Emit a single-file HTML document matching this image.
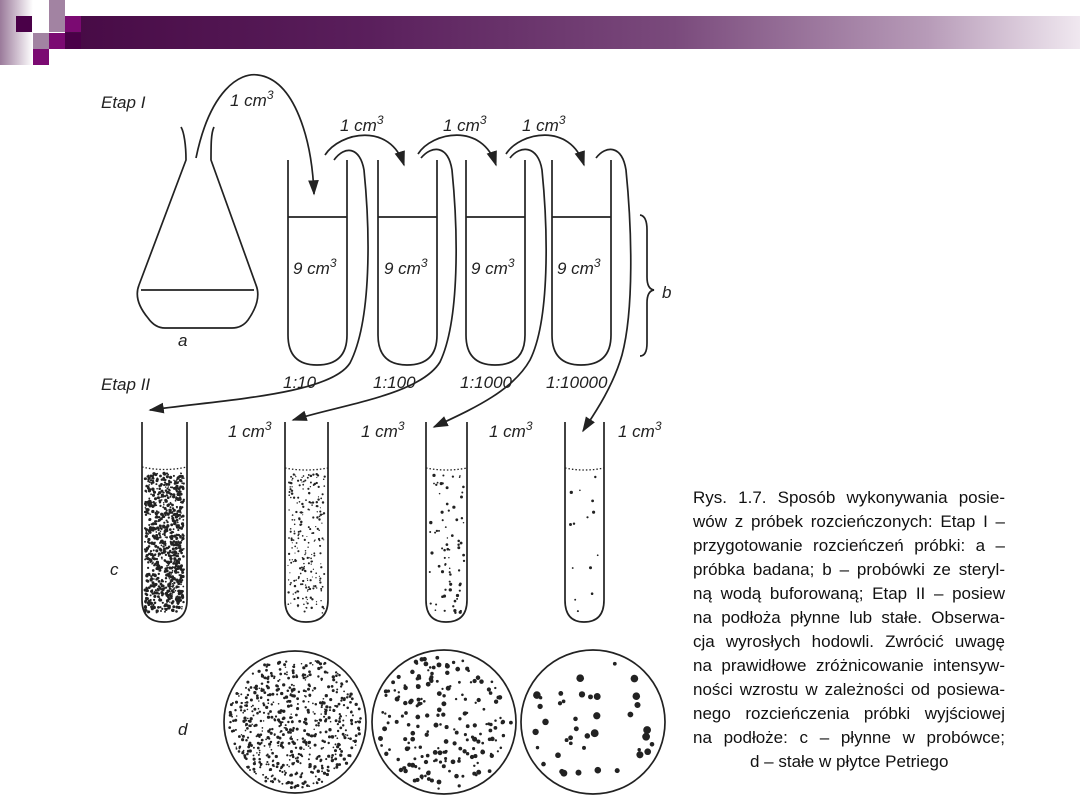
<!DOCTYPE html>
<html><head><meta charset="utf-8"><style>
html,body{margin:0;padding:0;background:#fff;width:1080px;height:810px;overflow:hidden;position:relative}
.sq{position:absolute;width:16px;height:16px}
#bar{position:absolute;left:65px;top:16px;width:1015px;height:33px;background:linear-gradient(90deg,#470a45 0%,#5a1f5c 30%,#7a4a7c 60%,#b79bb8 85%,#f0e8f0 100%)}
#strip{position:absolute;left:0;top:0;width:33px;height:65px;background:linear-gradient(90deg,#9a7a9a,#fff)}
#cap{position:absolute;left:693px;top:486px;width:312px;font-family:"Liberation Sans Narrow","Liberation Sans",sans-serif;font-size:17px;color:#111;line-height:24px}
#cap div{text-align:justify;text-align-last:justify;white-space:nowrap}
svg{position:absolute;left:0;top:0}
svg text{font-family:"Liberation Sans",sans-serif;font-style:italic;fill:#222}
</style></head><body>
<div id="strip"></div>
<div id="bar"></div>
<div class="sq" style="left:16px;top:16px;background:#4a0048"></div>
<div class="sq" style="left:49px;top:0;background:#a283a2"></div>
<div class="sq" style="left:49px;top:16px;background:#a283a2"></div>
<div class="sq" style="left:65px;top:16px;background:#7b0a72"></div>
<div class="sq" style="left:33px;top:33px;background:#a283a2"></div>
<div class="sq" style="left:49px;top:33px;background:#7b0a72"></div>
<div class="sq" style="left:65px;top:33px;background:#4a0048"></div>
<div class="sq" style="left:33px;top:49px;background:#7b0a72"></div>
<svg width="1080" height="810" viewBox="0 0 1080 810" id="s">
<defs><marker id="ah" viewBox="0 0 10 10" refX="9" refY="5" markerWidth="9" markerHeight="9" orient="auto-start-reverse"><path d="M0,1.5 L10,5 L0,8.5 z" fill="#222"/></marker></defs>
<g stroke="#222" stroke-width="1.7" fill="none">
<!-- flask -->
<path d="M181,127 C184,132 186,145 186,160 L139,285 Q133,300 148,318 Q155,328 165,328 L232,328 Q242,328 248,320 Q262,300 256,285 L211,160 C211,145 211,133 214,127"/>
<line x1="141" y1="290" x2="254" y2="290"/>
<!-- tubes -->
<path d="M288,160 L288,335 Q288,365 317,365 Q347,365 347,335 L347,160"/>
<path d="M378,160 L378,335 Q378,365 407,365 Q437,365 437,335 L437,160"/>
<path d="M466,160 L466,335 Q466,365 495,365 Q525,365 525,335 L525,160"/>
<path d="M552,160 L552,335 Q552,365 581,365 Q611,365 611,335 L611,160"/>
<line x1="288" y1="217" x2="347" y2="217"/><line x1="378" y1="217" x2="437" y2="217"/>
<line x1="466" y1="217" x2="525" y2="217"/><line x1="552" y1="217" x2="611" y2="217"/>
<!-- bracket -->
<path d="M640,215 Q647,216 647,230 L647,277 Q647,289 654,290 Q647,291 647,303 L647,343 Q647,356 640,356"/>
<!-- arrows stage I -->
<path d="M196,158 C210,90 240,72 258,75 C295,80 312,140 314,194" marker-end="url(#ah)"/>
<path d="M325,155 C340,132 390,122 404,165" marker-end="url(#ah)"/>
<path d="M418,154 C432,132 482,122 496,165" marker-end="url(#ah)"/>
<path d="M506,154 C520,132 570,122 584,165" marker-end="url(#ah)"/>
<!-- long arrows -->
<path d="M334,160 C345,145 360,147 364,170 C370,230 372,320 350,363 C330,395 220,400 150,410" marker-end="url(#ah)"/>
<path d="M421,158 C432,145 448,145 452,170 C458,230 460,320 440,362 C420,395 340,405 293,420" marker-end="url(#ah)"/>
<path d="M510,158 C520,145 538,145 542,170 C548,230 550,320 530,360 C512,392 470,410 434,427" marker-end="url(#ah)"/>
<path d="M596,158 C606,145 622,145 626,170 C632,230 634,310 622,355 C612,390 590,420 583,431" marker-end="url(#ah)"/>
<!-- lower tubes -->
<path d="M142,422 L142,600 Q142,622 164,622 Q187,622 187,600 L187,422"/>
<path d="M285,422 L285,600 Q285,622 306,622 Q328,622 328,600 L328,422"/>
<path d="M426,422 L426,600 Q426,622 446,622 Q467,622 467,600 L467,422"/>
<path d="M565,422 L565,600 Q565,622 584,622 Q604,622 604,600 L604,422"/>
<g stroke-dasharray="1.5,2" stroke-width="1.3">
<path d="M142,467 Q164,472 187,467"/><path d="M285,468 Q306,472 328,468"/>
<path d="M426,468 Q446,472 467,468"/><path d="M565,468 Q584,472 604,468"/></g>
<circle cx="295" cy="722" r="71"/><circle cx="444" cy="722" r="72"/><circle cx="593" cy="722" r="72"/>
</g>
<g id="dots" fill="#222"></g>
<g font-size="17">
<text x="101" y="108">Etap I</text>
<text x="101" y="390">Etap II</text>
<text x="230" y="106">1 cm<tspan font-size="12" dy="-7">3</tspan></text>
<text x="340" y="131">1 cm<tspan font-size="12" dy="-7">3</tspan></text>
<text x="443" y="131">1 cm<tspan font-size="12" dy="-7">3</tspan></text>
<text x="522" y="131">1 cm<tspan font-size="12" dy="-7">3</tspan></text>
<text x="293" y="274">9 cm<tspan font-size="12" dy="-7">3</tspan></text>
<text x="384" y="274">9 cm<tspan font-size="12" dy="-7">3</tspan></text>
<text x="471" y="274">9 cm<tspan font-size="12" dy="-7">3</tspan></text>
<text x="557" y="274">9 cm<tspan font-size="12" dy="-7">3</tspan></text>
<text x="283" y="388">1:10</text><text x="373" y="388">1:100</text>
<text x="460" y="388">1:1000</text><text x="546" y="388">1:10000</text>
<text x="178" y="346">a</text><text x="662" y="298">b</text>
<text x="110" y="575">c</text><text x="178" y="735">d</text>
<text x="228" y="437">1 cm<tspan font-size="12" dy="-7">3</tspan></text>
<text x="361" y="437">1 cm<tspan font-size="12" dy="-7">3</tspan></text>
<text x="489" y="437">1 cm<tspan font-size="12" dy="-7">3</tspan></text>
<text x="618" y="437">1 cm<tspan font-size="12" dy="-7">3</tspan></text>
</g>
</svg>
<div id="cap">
<div>Rys. 1.7. Sposób wykonywania posie-</div>
<div>wów z próbek rozcieńczonych: Etap I –</div>
<div>przygotowanie rozcieńczeń próbki: a –</div>
<div>próbka badana; b – probówki ze steryl-</div>
<div>ną wodą buforowaną; Etap II – posiew</div>
<div>na podłoża płynne lub stałe. Obserwa-</div>
<div>cja wyrosłych hodowli. Zwrócić uwagę</div>
<div>na prawidłowe zróżnicowanie intensyw-</div>
<div>ności wzrostu w zależności od posiewa-</div>
<div>nego rozcieńczenia próbki wyjściowej</div>
<div>na podłoże: c – płynne w probówce;</div>
<div style="text-align:left;text-align-last:left;padding-left:57px">d – stałe w płytce Petriego</div>
</div>
<script>
var s=7;function r(){s=(s*16807)%2147483647;return s/2147483647;}
var g=document.getElementById('dots'),h='';
function tube(x0,x1,y0,y1,n,rad){for(var i=0;i<n;i++){var x=x0+3+r()*(x1-x0-6),y=y0+3+r()*(y1-y0-6);h+='<circle cx="'+x.toFixed(1)+'" cy="'+y.toFixed(1)+'" r="'+(rad*(0.6+r()*0.8)).toFixed(2)+'"/>';}}
function dish(cx,cy,R,n,rad){for(var i=0;i<n;i++){var a=r()*6.283,d=Math.sqrt(r())*(R-5);h+='<circle cx="'+(cx+d*Math.cos(a)).toFixed(1)+'" cy="'+(cy+d*Math.sin(a)).toFixed(1)+'" r="'+(rad*(0.6+r()*0.8)).toFixed(2)+'"/>';}}
tube(142,187,470,616,850,1.2);tube(285,328,471,616,240,0.9);tube(426,467,471,616,75,1.2);tube(565,604,471,616,14,1.2);
dish(295,722,71,650,1.2);dish(444,722,72,200,1.8);dish(593,722,72,40,2.8);
g.innerHTML=h;
</script>
</body></html>
